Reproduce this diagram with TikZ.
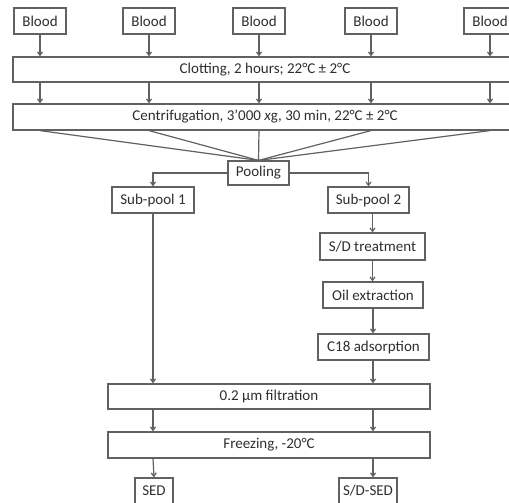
\documentclass[tikz,border=0pt]{standalone}
\usepackage{fontspec}
\setmainfont{Carlito}
\usetikzlibrary{arrows.meta}
\colorlet{boxgray}{black!62}
\colorlet{textgray}{black!82}
\begin{document}
\begin{tikzpicture}[x=1pt,y=-1pt,line width=1.2pt,draw=boxgray,
	stage/.style={draw=boxgray,text=textgray,minimum height=26pt,inner sep=0pt,font=\fontsize{15}{17}\selectfont},
	flow/.style={->,draw=boxgray,>={Straight Barb[length=3.5pt,width=5pt]}}]
	\useasboundingbox (0,0) rectangle (509,503);
	\foreach \i/\x in {1/40,2/149,3/259,4/371,5/490}
		\node[stage,minimum width=52pt](blood\i) at (\x,21){Blood};
	\node[stage,minimum width=504pt,minimum height=25pt](clot) at (265,69.5){Clotting, 2 hours; 22°C ± 2°C};
	\node[stage,minimum width=504pt](centr) at (265,117){Centrifugation, 3’000 \textit{x}g, 30 min, 22°C ± 2°C};
	\node[stage,minimum width=61pt,minimum height=24pt](pool) at (258.5,173){Pooling};
	\node[stage,minimum width=82pt](sub1) at (153,200){Sub-pool 1};
	\node[stage,minimum width=81pt](sub2) at (368.5,200){Sub-pool 2};
	\node[stage,minimum width=105pt,minimum height=27pt](sd) at (372.5,246.5){S/D treatment};
	\node[stage,minimum width=100pt](oil) at (373,295){Oil extraction};
	\node[stage,minimum width=111pt](c18) at (373.5,347){C18 adsorption};
	\node[stage,minimum width=322pt,minimum height=25pt](filt) at (269,396.5){0.2 µm filtration};
	\node[stage,minimum width=322pt](freeze) at (269,445){Freezing, -20°C};
	\node[stage,minimum width=38pt](sed) at (154,491){SED};
	\node[stage,minimum width=58pt](sdsed) at (368,491){S/D-SED};
	\foreach \i in {1,...,5}{
		\draw[flow](blood\i.south)--(blood\i.south|-clot.north);
		\draw[flow](blood\i.south|-clot.south)--(blood\i.south|-centr.north);
		\draw(blood\i.south|-centr.south)--(pool.north);
	}
	\draw[flow](pool.west)-|(sub1.north);
	\draw[flow](pool.east)-|(sub2.north);
	\draw[flow](sd.north|-sub2.south)--(sd.north);
	\draw[flow](sd.south)--(sd.south|-oil.north);
	\draw[flow](oil.south)--(oil.south|-c18.north);
	\draw[flow](sub1.south)--(sub1.south|-filt.north);
	\draw[flow](oil.south|-c18.south)--(oil.south|-filt.north);
	\draw[flow](sub1.south|-filt.south)--(sub1.south|-freeze.north);
	\draw[flow](oil.south|-filt.south)--(oil.south|-freeze.north);
	\draw[flow](sub1.south|-freeze.south)--(sed.north);
	\draw[flow](oil.south|-freeze.south)--(oil.south|-sdsed.north);
\end{tikzpicture}
\end{document}
